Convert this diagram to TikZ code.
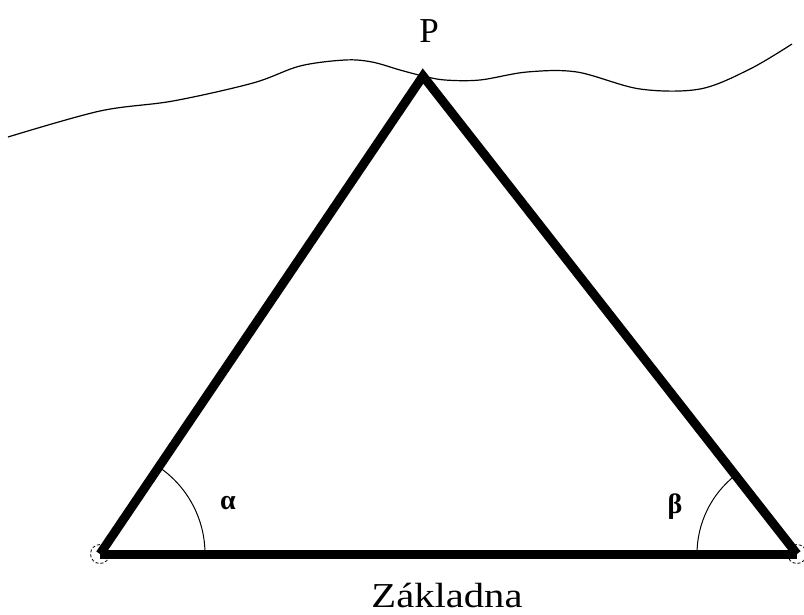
\documentclass[tikz,border=0pt]{standalone}
\usepackage{fontspec}
\setmainfont{Liberation Serif}
\begin{document}
\begin{tikzpicture}[x=1pt,y=-1pt,
  side/.style={line width=9pt,line join=miter},
  anglearc/.style={line width=1pt},
  vtx/.style={circle,draw,densely dashed,line width=0.8pt,minimum size=19pt,inner sep=0pt},
  lbl/.style={font=\fontsize{35}{37}\selectfont,anchor=base},
  greek/.style={font=\bfseries\fontsize{28}{30}\selectfont}]
\useasboundingbox (0,0) rectangle (804,614);
\coordinate (A) at (100,554);
\coordinate (B) at (797,554);
\coordinate (P) at (423,76);
% terrain line
\draw[line width=1.2pt] plot[smooth,tension=0.55] coordinates {(8,137) (100,111) (173,101) (253,83) (300,66) (345,60) (372,62) (400,70) (423,76) (445,80) (480,80) (527,72) (577,72) (640,89) (700,89) (750,69) (792,44)};
% vertex marks
\node[vtx] (cA) at (A) {};
\node[vtx] (cB) at (B) {};
% triangle
\draw[side] (A) -- (P) -- (B);
\draw[side] (A) -- (B);
% angle arcs
\draw[anglearc] ([shift={(0:105)}]A) arc[start angle=0,end angle=-56,radius=105];
\draw[anglearc] ([shift={(180:100)}]B) arc[start angle=180,end angle=232,radius=100];
% labels
\node[lbl] (lp) at (429,42) {P};
\node[lbl] (lz) at (447,607) {\scalebox{1.16}[1]{Základna}};
\node[greek] (la) at (228,503) {α};
\node[greek] (lb) at (675,507) {β};
\end{tikzpicture}
\end{document}
